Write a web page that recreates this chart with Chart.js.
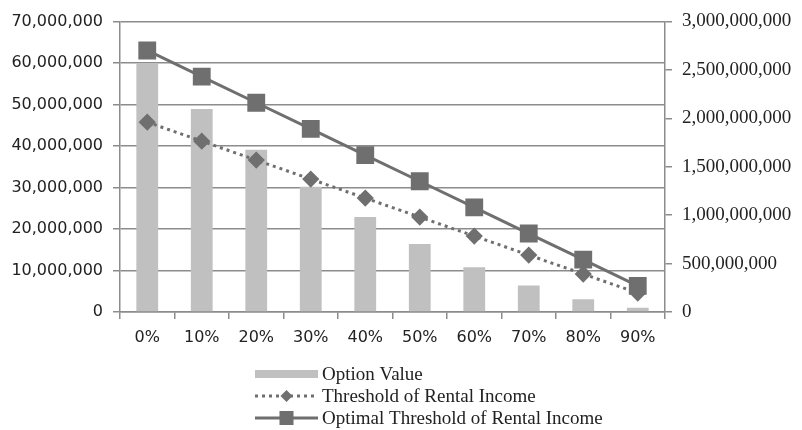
<!DOCTYPE html>
<html>
<head>
<meta charset="utf-8">
<script src="https://cdn.jsdelivr.net/npm/chart.js@4"></script>
<style>
  html, body { margin: 0; padding: 0; background: #fff; }
  #wrap { width: 802px; height: 430px; }
</style>
</head>
<body>
<div id="wrap"><canvas id="myChart"></canvas></div>
<script>
// data
const labels = ['0%', '10%', '20%', '30%', '40%', '50%', '60%', '70%', '80%', '90%'];
const optionValue = [60000000, 48900000, 39100000, 30200000, 22900000, 16400000, 10800000, 6400000, 3100000, 1000000];
const threshold = [1960000000, 1764000000, 1568000000, 1372000000, 1176000000, 980000000, 784000000, 588000000, 392000000, 196000000];
const optimalThreshold = [2700000000, 2430000000, 2160000000, 1890000000, 1620000000, 1350000000, 1080000000, 810000000, 540000000, 270000000];

const barColor = '#c0c0c0';
const lineColor = '#6f6f6f';
const gridColor = '#8c8c8c';
const textColor = '#222';

const fmt = v => Number(v).toLocaleString('en-US');

// legend drawn as a vertical list under the plot
const listLegend = {
    id: 'listLegend',
    afterDraw(chart) {
        const c = chart.ctx;
        const x0 = 255, x1 = 318, tx = 322;
        const rows = [374, 396, 418];
        const names = chart.data.datasets.map(d => d.label);
        c.save();
        c.font = '19px "Liberation Serif", serif';
        c.fillStyle = textColor;
        c.textBaseline = 'middle';

        // bar swatch
        c.fillStyle = barColor;
        c.fillRect(x0, rows[0] - 4, x1 - x0, 8);

        // dotted line with diamond
        c.strokeStyle = lineColor;
        c.lineWidth = 3;
        c.setLineDash([3, 4]);
        c.beginPath();
        c.moveTo(x0, rows[1]);
        c.lineTo(x1, rows[1]);
        c.stroke();
        c.setLineDash([]);
        c.fillStyle = lineColor;
        let mx = (x0 + x1) / 2;
        c.beginPath();
        c.moveTo(mx - 6, rows[1]);
        c.lineTo(mx, rows[1] - 6);
        c.lineTo(mx + 6, rows[1]);
        c.lineTo(mx, rows[1] + 6);
        c.closePath();
        c.fill();

        // solid line with square
        c.beginPath();
        c.moveTo(x0, rows[2]);
        c.lineTo(x1, rows[2]);
        c.stroke();
        c.fillRect(mx - 7, rows[2] - 7, 14, 14);

        c.fillStyle = textColor;
        names.forEach((n, i) => c.fillText(n, tx, rows[i] + 1));
        c.restore();
    }
};

const ctx = document.getElementById('myChart');

let chart = new Chart(ctx, {
    data: {
        labels: labels,
        datasets: [{
            type: 'bar',
            label: 'Option Value',
            data: optionValue,
            backgroundColor: barColor,
            yAxisID: 'y',
            barPercentage: 0.4,
            categoryPercentage: 1,
            order: 2
        }, {
            type: 'line',
            label: 'Threshold of Rental Income',
            data: threshold,
            borderColor: lineColor,
            backgroundColor: lineColor,
            borderWidth: 3,
            borderDash: [3, 4],
            pointStyle: 'rectRot',
            pointRadius: 6.5,
            yAxisID: 'y1',
            order: 1
        }, {
            type: 'line',
            label: 'Optimal Threshold of Rental Income',
            data: optimalThreshold,
            borderColor: lineColor,
            backgroundColor: lineColor,
            borderWidth: 3,
            pointStyle: 'rect',
            pointRadius: 10.5,
            yAxisID: 'y1',
            order: 0
        }]
    },
    options: {
        maintainAspectRatio: false,
        responsive: true,
        animation: false,
        layout: {
            padding: { top: 18, left: 0, right: 0, bottom: 0 }
        },
        plugins: {
            legend: { display: false },
            tooltip: { enabled: false }
        },
        scales: {
            x: {
                offset: true,
                grid: {
                    offset: true,
                    drawOnChartArea: false,
                    color: gridColor,
                    lineWidth: 1.5,
                    tickLength: 7
                },
                border: { display: true, color: gridColor, width: 1.5 },
                ticks: {
                    color: textColor,
                    font: { family: '"DejaVu Sans", sans-serif', size: 16 },
                    padding: 9,
                    maxRotation: 0
                },
                afterFit: s => { s.height = 118; }
            },
            y: {
                position: 'left',
                min: 0,
                max: 70000000,
                grid: {
                    color: gridColor,
                    lineWidth: 1.5,
                    tickLength: 7
                },
                border: { display: true, color: gridColor, width: 1.5 },
                ticks: {
                    stepSize: 10000000,
                    color: textColor,
                    font: { family: '"DejaVu Sans", sans-serif', size: 16 },
                    padding: 10,
                    callback: v => fmt(v)
                },
                afterFit: s => { s.width = 120; }
            },
            y1: {
                position: 'right',
                min: 0,
                max: 3000000000,
                grid: {
                    drawOnChartArea: false,
                    color: gridColor,
                    lineWidth: 1.5,
                    tickLength: 7
                },
                border: { display: true, color: gridColor, width: 1.5 },
                ticks: {
                    stepSize: 500000000,
                    color: textColor,
                    font: { family: '"Liberation Serif", serif', size: 19 },
                    padding: 10,
                    callback: v => fmt(v)
                },
                afterFit: s => { s.width = 137; }
            }
        }
    },
    plugins: [listLegend]
});
</script>
</body>
</html>
